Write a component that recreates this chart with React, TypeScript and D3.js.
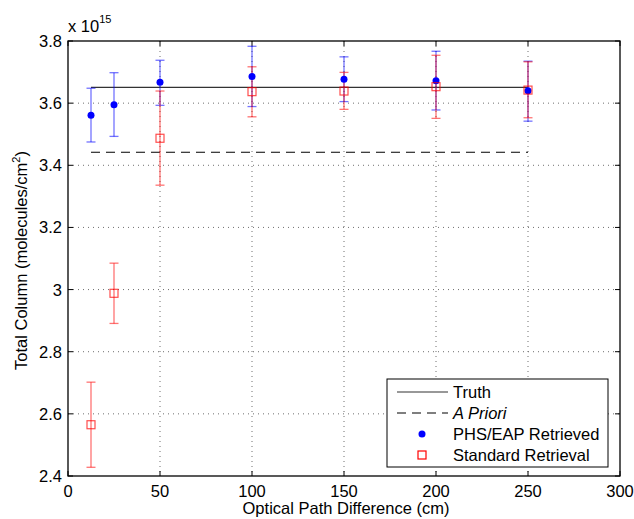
import React from "react";
import * as d3 from "d3";

const opd = [12.5, 25, 50, 100, 150, 200, 250];
const phsVal = [3.561, 3.595, 3.667, 3.686, 3.677, 3.672, 3.640];
const phsLo = [3.475, 3.493, 3.593, 3.589, 3.605, 3.578, 3.542];
const phsHi = [3.648, 3.698, 3.738, 3.783, 3.749, 3.767, 3.735];
const stdVal = [2.565, 2.988, 3.487, 3.637, 3.639, 3.653, 3.642];
const stdLo = [2.428, 2.891, 3.336, 3.556, 3.580, 3.551, 3.553];
const stdHi = [2.702, 3.085, 3.639, 3.717, 3.699, 3.754, 3.733];
const truthVal = 3.651;
const aprioriVal = 3.442;
const xTicks = [0, 50, 100, 150, 200, 250, 300];
const yTicks = [2.4, 2.6, 2.8, 3.0, 3.2, 3.4, 3.6, 3.8];
const legendLabels = ["Truth", "A Priori", "PHS/EAP Retrieved", "Standard Retrieval"];

export default function App() {
  const W = 634, H = 519;
  const L = 68, R = 620, T = 41, B = 476;
  const x = d3.scaleLinear().domain([0, 300]).range([L, R]);
  const y = d3.scaleLinear().domain([2.4, 3.8]).range([B, T]);
  const font = "'Liberation Sans', Arial, sans-serif";
  const fs = 16.5;
  const capW = 4.5;
  const fmtY = (v: number) => (Math.abs(v - 3) < 1e-9 ? "3" : v.toFixed(1));

  const errBars = (lo: number[], hi: number[], color: string, key: string) =>
    opd.map((d, i) => (
      <g key={key + i} stroke={color} strokeWidth={1.3} strokeOpacity={0.55}>
        <line x1={x(d)} x2={x(d)} y1={y(lo[i])} y2={y(hi[i])} />
        <line x1={x(d) - capW} x2={x(d) + capW} y1={y(lo[i])} y2={y(lo[i])} />
        <line x1={x(d) - capW} x2={x(d) + capW} y1={y(hi[i])} y2={y(hi[i])} />
      </g>
    ));

  const lx = 387, ly = 379, lw = 221, lh = 88;
  const rowY = [392, 413, 434, 455];

  return (
    <svg width={W} height={H} style={{ position: "absolute", left: 0, top: 0 }} fontFamily={font}>
      <rect width={W} height={H} fill="#fff" />
      <g stroke="#333" strokeWidth={1} strokeDasharray="1,4" opacity={0.7}>
        {xTicks.slice(1, -1).map((t) => (
          <line key={"gx" + t} x1={x(t)} x2={x(t)} y1={T} y2={B} />
        ))}
        {yTicks.slice(1, -1).map((t) => (
          <line key={"gy" + t} x1={L} x2={R} y1={y(t)} y2={y(t)} />
        ))}
      </g>
      <g stroke="#000" strokeWidth={1}>
        {xTicks.map((t) => (
          <g key={"tx" + t}>
            <line x1={x(t)} x2={x(t)} y1={B} y2={B - 5} />
            <line x1={x(t)} x2={x(t)} y1={T} y2={T + 5} />
          </g>
        ))}
        {yTicks.map((t) => (
          <g key={"ty" + t}>
            <line x1={L} x2={L + 5} y1={y(t)} y2={y(t)} />
            <line x1={R} x2={R - 5} y1={y(t)} y2={y(t)} />
          </g>
        ))}
      </g>
      <line x1={x(opd[0])} x2={x(opd[opd.length - 1])} y1={y(truthVal)} y2={y(truthVal)} stroke="#333" strokeWidth={1.2} />
      <line x1={x(opd[0])} x2={x(opd[opd.length - 1])} y1={y(aprioriVal)} y2={y(aprioriVal)} stroke="#000" strokeWidth={1.2} strokeDasharray="9,6" />
      {errBars(phsLo, phsHi, "#0000ff", "pe")}
      {errBars(stdLo, stdHi, "#ff0000", "se")}
      {opd.map((d, i) => (
        <circle key={"pc" + i} cx={x(d)} cy={y(phsVal[i])} r={3.5} fill="#0000ff" />
      ))}
      {opd.map((d, i) => (
        <rect key={"sr" + i} x={x(d) - 4} y={y(stdVal[i]) - 4} width={8} height={8} fill="none" stroke="#ff0000" strokeOpacity={0.7} strokeWidth={1.2} />
      ))}
      <rect x={L} y={T} width={R - L} height={B - T} fill="none" stroke="#000" strokeWidth={1.3} />
      {xTicks.map((t) => (
        <text key={"xl" + t} x={x(t)} y={B + 21} textAnchor="middle" fontSize={fs}>{t}</text>
      ))}
      {yTicks.map((t) => (
        <text key={"yl" + t} x={L - 6} y={y(t) + 6} textAnchor="end" fontSize={fs}>{fmtY(t)}</text>
      ))}
      <text x={L} y={T - 9} fontSize={fs}>
        x 10<tspan dy={-9} fontSize={11}>15</tspan>
      </text>
      <text x={(L + R) / 2 + 2} y={514} textAnchor="middle" fontSize={fs}>Optical Path Difference (cm)</text>
      <text transform={`translate(27,${(T + B) / 2 + 2}) rotate(-90)`} textAnchor="middle" fontSize={fs}>
        Total Column (molecules/cm<tspan dy={-7} fontSize={11}>2</tspan><tspan dy={7}>)</tspan>
      </text>
      <rect x={lx} y={ly} width={lw} height={lh} fill="#fff" stroke="#000" strokeWidth={1} />
      <line x1={397} x2={448} y1={rowY[0]} y2={rowY[0]} stroke="#333" strokeWidth={1.2} />
      <line x1={397} x2={448} y1={rowY[1]} y2={rowY[1]} stroke="#000" strokeWidth={1.2} strokeDasharray="9,6" />
      <circle cx={422} cy={rowY[2]} r={3.5} fill="#0000ff" />
      <rect x={418} y={rowY[3] - 4} width={8} height={8} fill="none" stroke="#ff0000" strokeWidth={1.2} />
      {legendLabels.map((s, i) => (
        <text key={"lg" + i} x={453} y={rowY[i] + 6} fontSize={fs} fontStyle={i === 1 ? "italic" : "normal"}>{s}</text>
      ))}
    </svg>
  );
}
